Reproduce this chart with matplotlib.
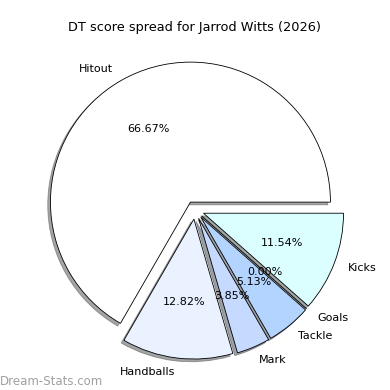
import matplotlib
matplotlib.use("Agg")
import matplotlib.pyplot as plt

categories = ["Hitout", "Handballs", "Mark", "Tackle", "Goals", "Kicks"]
values = [52, 10, 3, 4, 0, 9]
colors = ["#ffffff", "#ebf2ff", "#c6d9ff", "#b3d4ff", "#a8c8f0", "#dbffff"]
explode = [0.065] * len(values)

fig = plt.figure(figsize=(3.9, 3.9), dpi=100)
ax = fig.add_axes([20 / 390, 5 / 390, 350 / 390, 350 / 390])
ax.pie(values, labels=categories, colors=colors, explode=explode,
       autopct="%.2f%%", startangle=0, counterclock=True,
       shadow=dict(ox=-0.014, oy=-0.014),
       wedgeprops=dict(edgecolor="black", linewidth=0.6),
       textprops=dict(fontsize=8))
ax.set_title("DT score spread for Jarrod Witts (2026)", fontsize=9.3, pad=3)
fig.text(0.0, 0.006, "Dream-Stats.com", fontsize=8.5, color="#a0a0a0",
         ha="left", va="bottom")
fig.savefig("out.png", dpi=100)
